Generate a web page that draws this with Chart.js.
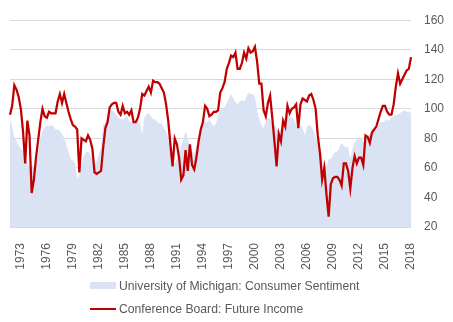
<!DOCTYPE html>
<html>
<head>
<meta charset="utf-8">
<title>Consumer Sentiment vs Future Income</title>
<script src="https://cdn.jsdelivr.net/npm/chart.js@4.4.1/dist/chart.umd.min.js"></script>
<style>
    body { margin: 0; background: #fff; font-family: 'Liberation Sans', Arial, sans-serif; }
    .wrap { position: relative; width: 453px; height: 322px; }
    .legend { position: absolute; left: 90px; top: 274px; font-size: 12.2px; color: #595959; }
    .legend-item { display: flex; align-items: center; height: 23.5px; white-space: nowrap; }
    .swatch { width: 26px; margin-right: 3px; }
    .swatch.area { height: 7px; background: #dae3f3; }
    .swatch.line { height: 2px; background: #c00000; }
</style>
</head>
<body>
<div class="wrap">
    <canvas id="sentimentChart"></canvas>
    <div class="legend">
        <div class="legend-item"><span class="swatch area"></span><span>University of Michigan: Consumer Sentiment</span></div>
        <div class="legend-item"><span class="swatch line"></span><span>Conference Board: Future Income</span></div>
    </div>
</div>
<script>
// Quarterly data, 1971 Q4 .. 2018 Q1
const firstYear = 1971;
const firstQuarter = 4;

const tickYears = [1973, 1976, 1979, 1982, 1985, 1988, 1991, 1994, 1997, 2000, 2003, 2006, 2009, 2012, 2015, 2018];
const yTicks = { min: 20, max: 160, step: 20 };

// Conference Board: Future Income
const futureIncome = [
    96,
    102, 116, 113, 108,
    100, 85, 63, 92,
    82, 43, 52, 67,
    79, 91, 100, 95,
    94, 98, 97, 97,
    97, 105, 110, 104,
    110, 104, 98, 93,
    89, 88, 86, 57,
    80, 79, 78, 82,
    79, 73, 57, 56,
    57, 58, 74, 87,
    91, 101, 103, 104,
    104, 98, 96, 102,
    97, 98, 96, 99,
    91, 91, 94, 100,
    110, 109, 112, 115,
    111, 119, 118, 118,
    117, 114, 111, 103,
    92, 76, 61, 80,
    76, 67, 52, 55,
    72, 58, 76, 62,
    59, 67, 78, 86,
    91, 102, 100, 95,
    96, 98, 98, 99,
    111, 114, 118, 127,
    131, 136, 135, 138,
    127, 127, 131, 138,
    134, 141, 138, 139,
    142, 132, 117, 117,
    99, 95, 104, 109,
    94, 78, 61, 83,
    78, 92, 88, 102,
    97, 100, 101, 103,
    87, 103, 107, 106,
    105, 109, 110, 106,
    100, 82, 70, 52,
    60, 42, 27, 49,
    53, 54, 54, 52,
    48, 63, 63, 58,
    46, 60, 68, 63,
    67, 67, 62, 82,
    81, 77, 84, 86,
    88, 93, 98, 102,
    102, 98, 96, 96,
    103, 115, 124, 117,
    120, 123, 126, 127,
    135
];

// University of Michigan: Consumer Sentiment
const sentiment = [
    93,
    88, 81, 78, 75,
    73, 72, 66, 64,
    60, 63, 60, 62,
    70, 80, 85, 87,
    89, 88, 89, 88,
    86, 86, 85, 83,
    80, 76, 71, 66,
    65, 63, 53, 55,
    63, 68, 71, 71,
    69, 66, 62, 65,
    69, 74, 89, 91,
    94, 98, 99, 98,
    96, 94, 93, 93,
    94, 95, 92, 91,
    90, 92, 93, 90,
    83, 94, 96, 97,
    95, 93, 93, 91,
    90, 90, 87, 85,
    80, 70, 65, 63,
    66, 71, 75, 79,
    85, 80, 74, 71,
    70, 75, 82, 89,
    91, 91, 91, 93,
    90, 88, 90, 95,
    99, 100, 101, 104,
    107, 110, 107, 105,
    103, 105, 106, 105,
    108, 111, 110, 110,
    108, 99, 93, 89,
    87, 92, 94, 93,
    90, 89, 87, 84,
    87, 91, 94, 96,
    95, 94, 93, 89,
    87, 89, 87, 82,
    88, 89, 88, 85,
    81, 77, 74, 67,
    63, 61, 66, 66,
    69, 71, 71, 74,
    77, 75, 74, 74,
    66, 73, 77, 79,
    81, 80, 78, 81,
    82, 83, 84, 85,
    86, 89, 91, 91,
    92, 93, 92, 94,
    95, 96, 96, 97,
    98, 99, 98, 98,
    97
];

// build quarter labels ("1973 Q1") to match the series length
const quarters = [];
for (let i = 0; i < futureIncome.length; i++) {
    const n = firstQuarter - 1 + i;
    quarters.push((firstYear + Math.floor(n / 4)) + ' Q' + (n % 4 + 1));
}

Chart.defaults.font.family = "'Liberation Sans', Arial, sans-serif";
Chart.defaults.font.size = 12;
Chart.defaults.color = '#595959';

new Chart(document.getElementById('sentimentChart'), {
    type: 'line',
    data: {
        labels: quarters,
        datasets: [{
            label: 'Conference Board: Future Income',
            data: futureIncome,
            borderColor: '#c00000',
            borderWidth: 2.25,
            pointRadius: 0,
            tension: 0,
            fill: false
        }, {
            label: 'University of Michigan: Consumer Sentiment',
            data: sentiment,
            borderWidth: 0,
            borderColor: 'rgba(0,0,0,0)',
            backgroundColor: '#dae3f3',
            pointRadius: 0,
            tension: 0,
            fill: 'start'
        }]
    },
    options: {
        responsive: true,
        maintainAspectRatio: false,
        animation: false,
        layout: {
            padding: { left: 10, top: 8, right: 0, bottom: 0 }
        },
        plugins: {
            legend: { display: false },
            tooltip: { enabled: false }
        },
        scales: {
            x: {
                grid: { display: false },
                border: { display: false },
                ticks: {
                    autoSkip: false,
                    minRotation: 90,
                    maxRotation: 90,
                    padding: 8,
                    callback: function(value, index) {
                        const parts = quarters[index].split(' Q');
                        const year = parseInt(parts[0]);
                        if (parts[1] === '1' && tickYears.includes(year)) {
                            return String(year);
                        }
                        return null;
                    }
                },
                afterFit: function(scale) {
                    scale.height = 95;
                }
            },
            y: {
                position: 'right',
                min: yTicks.min,
                max: yTicks.max,
                grid: {
                    color: '#d9d9d9',
                    lineWidth: 1,
                    drawTicks: false
                },
                border: { display: false },
                ticks: {
                    stepSize: yTicks.step,
                    padding: 13
                },
                afterFit: function(scale) {
                    scale.width = 42;
                }
            }
        }
    }
});
</script>
</body>
</html>
